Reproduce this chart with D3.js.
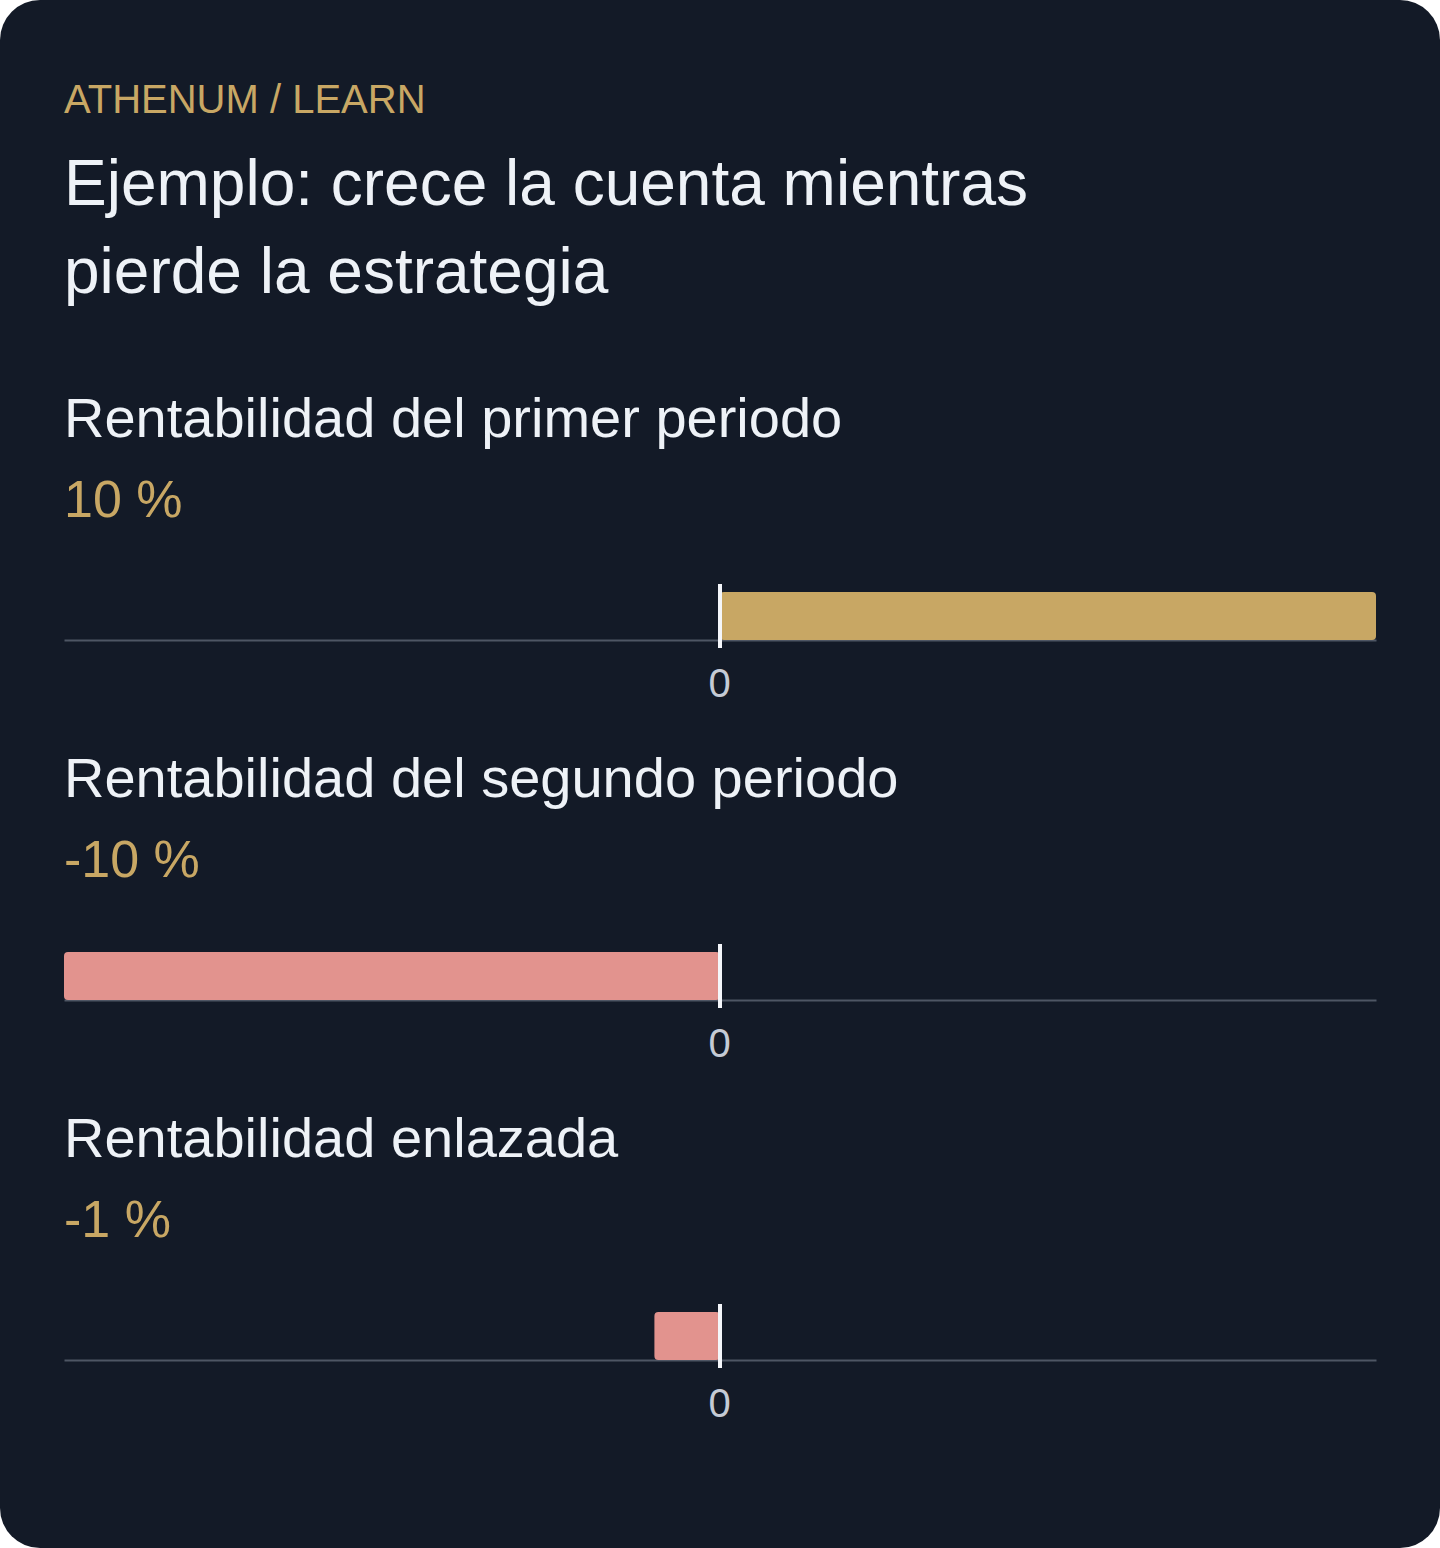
<!DOCTYPE html>
<html>
<head>
<meta charset="utf-8">
<script src="https://cdn.jsdelivr.net/npm/d3@7"></script>
<style>
  html, body { margin: 0; padding: 0; background: #ffffff; }
  svg { display: block; }
  text { font-family: "Liberation Sans", Arial, Helvetica, sans-serif; }
</style>
</head>
<body>
<div id="chart"></div>
<script>
// chart data
const kicker = "ATHENUM / LEARN"
const titleLines = ["Ejemplo: crece la cuenta mientras", "pierde la estrategia"]
const rowLabels = ["Rentabilidad del primer periodo", "Rentabilidad del segundo periodo", "Rentabilidad enlazada"]
const rowValues = [10, -10, -1]
const tickValues = [0]

const width = 1440
const height = 1548
const left = 64
const right = 1376
const rowStart = 437
const rowStep = 360

const gold = "#c8a764"
const pink = "#e2938e"

let svg = d3.select("#chart")
    .append("svg")
    .attr("width", width)
    .attr("height", height)

// card
svg.append("rect")
    .attr("width", width)
    .attr("height", height)
    .attr("rx", 40)
    .attr("fill", "#131a27")

svg.append("text")
    .attr("x", left)
    .attr("y", 113)
    .attr("fill", gold)
    .style("font-size", "40px")
    .text(kicker)

svg.append("g").selectAll("text")
    .data(titleLines)
    .join("text")
    .attr("x", left)
    .attr("y", (d, i) => 205 + i * 88)
    .attr("fill", "#eef2f7")
    .style("font-size", "64px")
    .text(d => d)

let x = d3.scaleLinear()
    .domain([-10, 10])
    .range([left, right])

let rows = svg.selectAll("g.row")
    .data(rowLabels.map((label, i) => ({label: label, value: rowValues[i]})))
    .join("g")
    .attr("class", "row")
    .attr("transform", (d, i) => "translate(0," + (rowStart + i * rowStep) + ")")

rows.append("text")
    .attr("x", left)
    .attr("y", 0)
    .attr("fill", "#eef2f7")
    .style("font-size", "56px")
    .text(d => d.label)

rows.append("text")
    .attr("x", left)
    .attr("y", 80)
    .attr("fill", gold)
    .style("font-size", "52px")
    .text(d => d.value + " %")

// axis at y = 203 within row
rows.each(function(d) {
    let g = d3.select(this)
    let axis = g.append("g")
        .attr("transform", "translate(0,203)")
        .call(d3.axisBottom(x).tickValues(tickValues).tickSize(0).tickSizeOuter(0))
    axis.select(".domain")
        .attr("stroke", "#4e5664")
        .attr("stroke-width", 2)
    axis.selectAll(".tick text")
        .attr("dy", null)
        .attr("x", -1)
        .attr("y", 57)
        .attr("fill", "#c5cbd5")
        .style("font-size", "40px")
        .style("font-family", "'Liberation Sans', Arial, Helvetica, sans-serif")

    g.append("rect")
        .attr("x", x(Math.min(0, d.value)))
        .attr("y", 155)
        .attr("width", Math.abs(x(d.value) - x(0)))
        .attr("height", 48)
        .attr("rx", 4)
        .attr("fill", d.value >= 0 ? gold : pink)

    g.append("line")
        .attr("x1", x(0))
        .attr("x2", x(0))
        .attr("y1", 147)
        .attr("y2", 211)
        .attr("stroke", "#f4f6fa")
        .attr("stroke-width", 4)
})
</script>
</body>
</html>
